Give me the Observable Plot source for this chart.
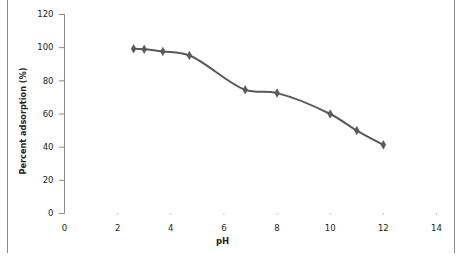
<!DOCTYPE html>
<html>
<head>
<meta charset="utf-8">
<script src="https://cdn.jsdelivr.net/npm/d3@7"></script>
<script src="https://cdn.jsdelivr.net/npm/@observablehq/plot@0.6"></script>
<style>
  html, body { margin: 0; padding: 0; background: #fff; }
  #wrap { position: relative; width: 461px; height: 258px; overflow: hidden; }
  #frame { position: absolute; left: 7px; top: -2px; width: 446px; height: 255px;
           border-left: 1px solid #8c8c8c; border-right: 1px solid #8c8c8c; pointer-events: none; }
</style>
</head>
<body>
<div id="wrap"><div id="frame"></div></div>
<script>
const pH = [2.6, 3, 3.7, 4.7, 6.8, 8, 10, 11, 12];
const adsorption = [99.3, 99, 97.7, 95.3, 74.6, 72.6, 60, 50, 41.4];
const xTicks = [0, 2, 4, 6, 8, 10, 12, 14];
const yTicks = [0, 20, 40, 60, 80, 100, 120];
const xLabel = "pH";
const yLabel = "Percent adsorption (%)";

const data = pH.map((x, i) => ({x, y: adsorption[i]}));
const col = "#5a5a5a";

const chart = Plot.plot({
  width: 461,
  height: 258,
  marginLeft: 64,
  marginRight: 25,
  marginTop: 14,
  marginBottom: 45,
  style: {fontFamily: "DejaVu Sans", fontSize: "8.5px", color: "#222", background: "transparent"},
  x: {domain: [0, 14]},
  y: {domain: [0, 120]},
  marks: [
    Plot.ruleX([0], {y1: 0, y2: 120, stroke: "#8c8c8c", strokeWidth: 1}),
    Plot.axisY({ticks: yTicks, tickSize: 5, tickPadding: 6, stroke: "#8c8c8c", label: null}),
    Plot.axisX({ticks: xTicks, tickSize: 2, tickPadding: 9, stroke: "#c8c8c8", label: null}),
    Plot.text([yLabel], {frameAnchor: "left", textAnchor: "middle", dx: -41, dy: 7, rotate: -90, fontWeight: "bold", fontSize: 8.2, fill: "#222"}),
    Plot.text([xLabel], {frameAnchor: "bottom", dy: 30, dx: -28, fontWeight: "bold", fontSize: 8.5, fill: "#222"}),
    Plot.line(data, {x: "x", y: "y", curve: "catmull-rom", stroke: col, strokeWidth: 2}),
    Plot.dot(data, {x: "x", y: "y", symbol: "diamond", r: 2.6, fill: col, stroke: col, strokeWidth: 0.5})
  ]
});
document.getElementById("wrap").appendChild(chart);
chart.style.position = "absolute";
chart.style.left = "0";
chart.style.top = "0";
</script>
</body>
</html>
